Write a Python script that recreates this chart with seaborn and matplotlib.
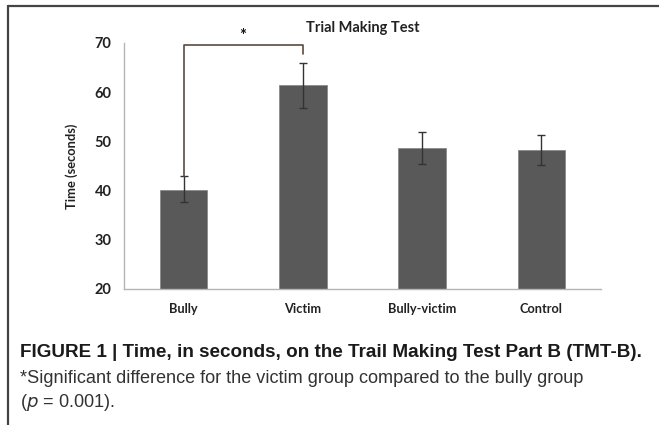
import pandas as pd
import matplotlib
matplotlib.use('Agg')
import matplotlib.pyplot as plt
import seaborn as sns
from matplotlib.lines import Line2D

groups = ['Bully', 'Victim', 'Bully-victim', 'Control']
mean_time = [40.2, 61.5, 48.6, 48.2]
err_low = [37.7, 56.8, 45.4, 45.2]
err_high = [43.0, 66.0, 51.9, 51.3]
y_ticks = [20, 30, 40, 50, 60, 70]

df = pd.DataFrame({'group': groups, 'time': mean_time})

sns.set_style('white')
plt.rcParams['font.family'] = ['Lato', 'DejaVu Sans']

fig = plt.figure(figsize=(6.59, 4.25), dpi=100)
ax = fig.add_axes([0.188, 0.32, 0.724, 0.579])

sns.barplot(data=df, x='group', y='time', color='#595959', width=0.4,
            errorbar=None, saturation=1, edgecolor='#8a8a8a', linewidth=0.6, ax=ax)

lo = [m - l for m, l in zip(mean_time, err_low)]
hi = [h - m for m, h in zip(mean_time, err_high)]
ax.errorbar(range(len(groups)), mean_time, yerr=[lo, hi], fmt='none',
            ecolor='#333333', elinewidth=1.0, capsize=3, capthick=1.0)

ax.set_ylim(20, 70)
ax.set_xlim(-0.5, 3.5)
ax.set_yticks(y_ticks)
ax.set_ylabel('Time (seconds)', fontsize=9.3, fontweight='bold', color='#222222', labelpad=12)
ax.set_xlabel('')
ax.set_title('Trial Making Test', fontsize=10.5, fontweight='bold', color='#222222', pad=8)

for s in ['top', 'right']:
    ax.spines[s].set_visible(False)
for s in ['left', 'bottom']:
    ax.spines[s].set_color('#b5b5b5')
    ax.spines[s].set_linewidth(1.0)

ax.tick_params(axis='y', length=4, width=1, color='#b5b5b5', direction='out',
               labelsize=10.5, labelcolor='#222222', pad=5)
ax.tick_params(axis='x', which='major', length=0, labelsize=9.2, labelcolor='#222222', pad=10)
ax.set_xticks([-0.5, 0.5, 1.5, 2.5, 3.5], minor=True)
ax.tick_params(axis='x', which='minor', length=4, width=1, color='#b5b5b5', direction='out')
for lab in ax.get_xticklabels() + ax.get_yticklabels():
    lab.set_fontweight('bold')

# significance bracket between Bully and Victim
bracket_top = 69.6
ax.plot([0, 0, 1, 1], [err_high[0], bracket_top, bracket_top, 67.7],
        color='#5a4a40', linewidth=1.2, clip_on=False)
ax.text(0.5, bracket_top + 0.2, '*', ha='center', va='bottom', fontsize=12,
        fontweight='bold', color='#111111')

# frame lines
fig.add_artist(Line2D([8 / 659, 1.0], [1 - 6 / 425, 1 - 6 / 425], color='#444444', linewidth=1.6))
fig.add_artist(Line2D([8 / 659, 8 / 659], [0, 1 - 6 / 425], color='#444444', linewidth=1.6))

cap_font = ['Liberation Sans Narrow', 'Liberation Sans', 'DejaVu Sans']
fig.text(20 / 659, 1 - 357 / 425, 'FIGURE 1 | Time, in seconds, on the Trail Making Test Part B (TMT-B).',
         fontsize=13.6, fontweight='bold', family=cap_font, color='#1a1a1a', va='baseline')
fig.text(20 / 659, 1 - 383 / 425, '*Significant difference for the victim group compared to the bully group',
         fontsize=13.1, family=cap_font, color='#333333', va='baseline')
fig.text(20 / 659, 1 - 407 / 425, '($p$ = 0.001).',
         fontsize=13.1, family=cap_font, color='#333333', va='baseline')

plt.savefig('out.png', dpi=100)
